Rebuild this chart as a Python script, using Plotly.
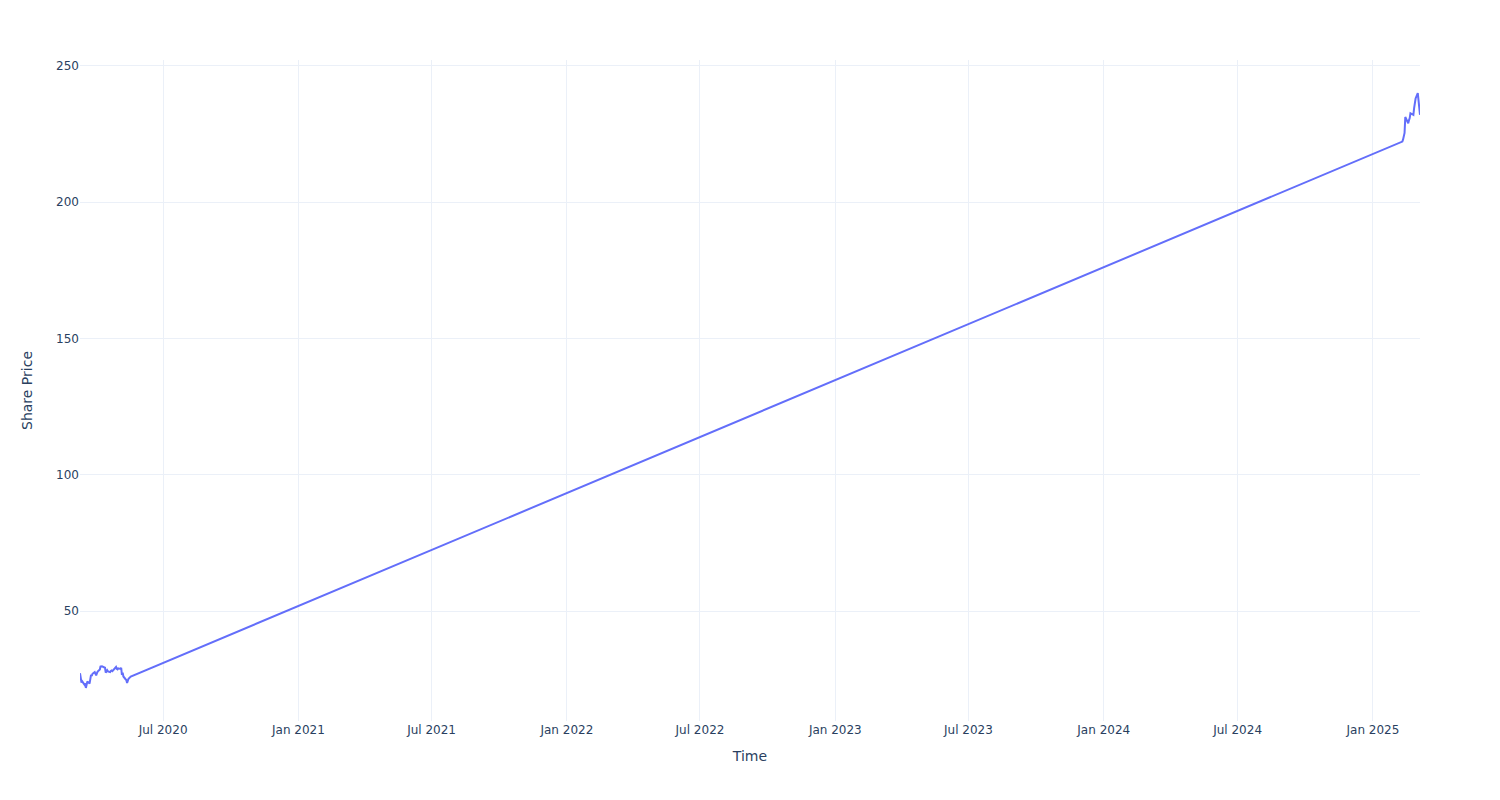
import plotly.graph_objects as go

dates_2020 = [
    "2020-03-10", "2020-03-11", "2020-03-12", "2020-03-13", "2020-03-16", "2020-03-17",
    "2020-03-18", "2020-03-19", "2020-03-20", "2020-03-23", "2020-03-24", "2020-03-25",
    "2020-03-26", "2020-03-27", "2020-03-30", "2020-03-31",
    "2020-04-01", "2020-04-02", "2020-04-03", "2020-04-06", "2020-04-07", "2020-04-08",
    "2020-04-09", "2020-04-13", "2020-04-14", "2020-04-15", "2020-04-16", "2020-04-17",
    "2020-04-20", "2020-04-21", "2020-04-22", "2020-04-23", "2020-04-24", "2020-04-27",
    "2020-04-28", "2020-04-29", "2020-04-30",
    "2020-05-01", "2020-05-04", "2020-05-05", "2020-05-06", "2020-05-07", "2020-05-08",
    "2020-05-11", "2020-05-12", "2020-05-13", "2020-05-14", "2020-05-15", "2020-05-18",
]
prices_2020 = [
    27.2, 25.0, 23.8, 24.2, 23.0, 23.5,
    21.8, 23.0, 24.2, 23.4, 25.8, 26.6,
    26.2, 27.0, 27.6, 26.8,
    26.4, 27.2, 27.8, 28.6, 29.9, 29.6,
    29.7, 29.2, 27.4, 27.8, 28.3, 27.9,
    27.6, 28.0, 28.2, 28.0, 28.4, 29.1,
    29.5, 28.8, 28.6,
    29.0, 28.8, 29.2, 26.6, 27.4, 26.0,
    25.0, 24.7, 23.6, 24.4, 25.2, 26.0,
]

dates_2025 = [
    "2025-02-10", "2025-02-11", "2025-02-12", "2025-02-13", "2025-02-14",
    "2025-02-18", "2025-02-19", "2025-02-20", "2025-02-21",
    "2025-02-24", "2025-02-25", "2025-02-26", "2025-02-27", "2025-02-28",
    "2025-03-03", "2025-03-04", "2025-03-05", "2025-03-06",
]
prices_2025 = [
    222.2, 223.0, 224.0, 225.4, 231.2,
    228.9, 230.0, 230.8, 232.6,
    232.2, 232.0, 234.5, 235.8, 238.0,
    240.0, 236.8, 235.5, 232.0,
]

dates = dates_2020 + dates_2025
prices = prices_2020 + prices_2025

fig = go.Figure()
fig.add_trace(go.Scatter(x=dates, y=prices, mode="lines",
                         line=dict(color="#636efa", width=2)))

fig.update_layout(
    template="plotly_white",
    width=1484, height=784,
    margin=dict(l=72, r=72, t=52, b=71),
    font=dict(family="DejaVu Sans", color="#2a3f5f"),
    xaxis=dict(title=dict(text="Time")),
    yaxis=dict(title=dict(text="Share Price", standoff=20)),
    showlegend=False,
)

fig.write_html("out.html")
